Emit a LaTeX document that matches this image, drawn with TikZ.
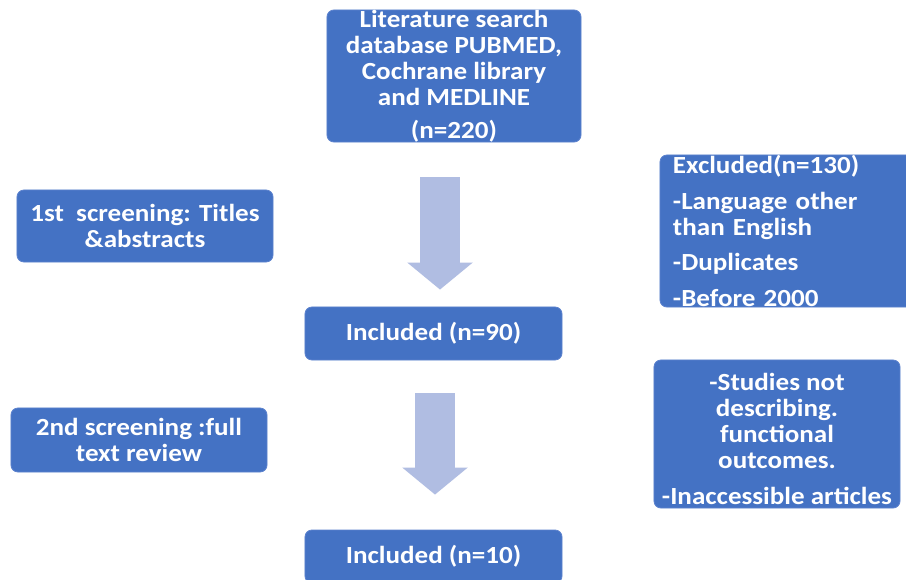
\documentclass[tikz,border=0pt]{standalone}
\usepackage{fontspec}
\setmainfont{Carlito}
\newfontfamily\fontBox[FakeStretch=1.1]{Carlito}
\usepackage{xcolor}
\usepackage{tikz}
\usetikzlibrary{
	positioning,    % posizione relativa dei nodi
	arrows.meta,    % punte di freccia (Triangle)
	calc            % coordinate calcolate
}
\definecolor{bluBox}{RGB}{68,114,196}
\definecolor{bordoBox}{RGB}{92,130,206}
\definecolor{bluFreccia}{RGB}{176,189,226}

\begin{document}
\begin{tikzpicture}[
			x=0.025cm, y=-0.025cm,
			% Stile per i riquadri blu
			riquadro/.style={
				draw=bordoBox, line width=0.6pt, fill=bluBox,
				rounded corners=5pt, text=white,
				font=\fontBox\fontsize{17.5}{18.5}\selectfont\bfseries,
				align=center, inner sep=0pt
			},
			% Stile per le frecce larghe
			freccia/.style={
				draw=bluFreccia, line width=1cm,
				-{Triangle[length=0.675cm, width=1.6cm]}
			}
			]
			
			% --- Area del disegno ---
			\clip (0,0) rectangle (906,579);
			\fill[white] (0,0) rectangle (906,579);
			
			% --- Colonna centrale ---
			\node[riquadro, minimum width=6.35cm, minimum height=3.3cm] (ricerca) at (454,76)
			{Literature search\\database PUBMED,\\Cochrane library\\and MEDLINE\\[5pt](n=220)};
			
			\node[riquadro, minimum width=6.425cm, minimum height=1.325cm] (incl1) at (433.5,333.5)
			{Included (n=90)};
			
			\node[riquadro, minimum width=6.425cm, minimum height=1.325cm] (incl2) at (433.5,556.5)
			{Included (n=10)};
			
			% --- Colonna sinistra ---
			\node[riquadro, minimum width=6.4cm, minimum height=1.8cm] (scr1) at (145,226)
			{1st\ \ screening: Titles\\\&abstracts};
			
			\node[riquadro, minimum width=6.4cm, minimum height=1.6cm] (scr2) at (139,440)
			{2nd screening :full\\text review};
			
			% --- Colonna destra ---
			\node[riquadro, align=left, text width=5.725cm, inner xsep=0.325cm,
			minimum height=3.8cm] (escl1) at (787.5,231)
			{Excluded(n=130)\\[7pt]-Language other\\than English\\[7pt]-Duplicates\\[7pt]-Before 2000};
			
			% strut iniziale: abbassa un po' il testo
			\node[riquadro, minimum width=6.15cm, minimum height=3.7cm] (escl2) at (777,434)
			{\rule{0pt}{19pt}-Studies not\\describing.\\functional\\outcomes.\\[7pt]-Inaccessible articles};
			
			% --- Frecce ---
			\coordinate (f1) at ($(ricerca.south)+(-14,35)$);
			\draw[freccia] (f1) -- ($(f1 |- incl1.north)+(0,-17)$);
			
			\coordinate (f2) at ($(incl1.south)+(1.5,33)$);
			\draw[freccia] (f2) -- ($(f2 |- incl2.north)+(0,-35)$);
			
		\end{tikzpicture}
\end{document}
